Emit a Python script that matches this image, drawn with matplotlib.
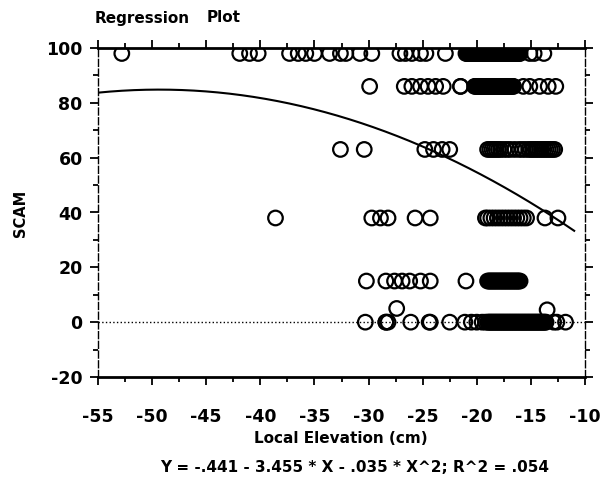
import matplotlib.pyplot as plt
import numpy as np
from matplotlib.ticker import MultipleLocator

plt.rcParams['axes.unicode_minus'] = False

# SCAM levels (rows of points) and local elevations
elev_98 = [-52.8, -41.9, -41.0, -40.2, -37.3, -36.5, -35.8, -35.0, -33.6, -32.6,
           -32.1, -30.8, -29.7, -27.1, -26.6, -26.0, -25.2, -24.7, -22.9,
           -21.0, -20.9, -20.8, -20.7, -20.6, -20.5, -20.4, -20.3, -20.2, -20.1,
           -20.0, -19.9, -19.8, -19.7, -19.6, -19.5, -19.4, -19.3, -19.2, -19.1,
           -19.0, -18.9, -18.8, -18.7, -18.6, -18.5, -18.4, -18.3, -18.2, -18.1,
           -18.0, -17.9, -17.8, -17.7, -17.6, -17.5, -17.4, -17.3, -17.2, -17.1,
           -17.0, -16.9, -16.8, -16.7, -16.6, -16.5, -16.4, -16.3, -16.2, -16.1,
           -16.0, -15.1, -14.7, -13.8]
elev_86 = [-29.9, -26.7, -26.0, -25.2, -24.5, -23.8, -23.1, -21.5, -21.5,
           -20.2, -20.1, -20.0, -19.9, -19.8, -19.7, -19.6, -19.5, -19.4, -19.3,
           -19.2, -19.1, -19.0, -18.9, -18.8, -18.7, -18.6, -18.5, -18.4, -18.3,
           -18.2, -18.1, -18.0, -17.9, -17.8, -17.7, -17.6, -17.5, -17.4, -17.3,
           -17.2, -17.1, -17.0, -16.9, -16.8, -16.7, -16.6,
           -15.7, -15.1, -14.2, -13.4, -12.7]
elev_63 = [-32.6, -30.4, -24.8, -24.0, -23.2, -22.5,
           -19.0, -18.8, -18.6, -18.4, -18.2, -18.0, -17.8, -17.5, -17.2, -16.9,
           -16.5, -16.1, -15.8, -15.5, -15.2, -15.0, -14.8, -14.6, -14.4, -14.2,
           -14.0, -13.8, -13.6, -13.4, -13.2, -13.0, -12.8]
elev_38 = [-38.6, -29.7, -28.9, -28.2, -25.7, -24.3,
           -19.2, -19.0, -18.7, -18.4, -18.1, -17.8, -17.5, -17.2, -16.9, -16.6,
           -16.3, -16.0, -15.7, -15.4, -13.7, -12.5]
elev_15 = [-30.2, -28.4, -27.6, -26.9, -26.2, -25.2, -24.3, -21.0,
           -19.0, -18.9, -18.8, -18.7, -18.6, -18.5, -18.4, -18.3, -18.2, -18.1,
           -18.0, -17.9, -17.8, -17.7, -17.6, -17.5, -17.4, -17.3, -17.2, -17.1,
           -17.0, -16.9, -16.8, -16.7, -16.6, -16.5, -16.4, -16.3, -16.2, -16.1,
           -16.0]
elev_0 = [-30.3, -28.4, -28.4, -28.2, -26.1, -24.4, -24.3, -22.5, -21.1, -20.5,
          -20.0, -19.5, -19.2,
          -19.0, -18.9, -18.8, -18.7, -18.6, -18.5, -18.4, -18.3, -18.2, -18.1,
          -18.0, -17.9, -17.8, -17.7, -17.6, -17.5, -17.4, -17.3, -17.2, -17.1,
          -17.0, -16.9, -16.8, -16.7, -16.6, -16.5, -16.4, -16.3, -16.2, -16.1,
          -16.0, -15.9, -15.8, -15.7, -15.6, -15.5, -15.4, -15.3, -15.2, -15.1,
          -15.0, -14.9, -14.8, -14.7, -14.6, -14.5, -14.4, -14.3, -14.2, -14.1,
          -14.0, -13.9, -13.8, -13.7, -13.6, -12.9, -12.6, -11.8]
rows = {98: elev_98, 86: elev_86, 63: elev_63, 38: elev_38, 15: elev_15, 0: elev_0}
extra_x = [-27.4, -13.5]
extra_y = [5, 4.5]

# regression coefficients printed under the chart
b0, b1, b2 = -0.441, -3.455, -0.035

x = np.concatenate([rows[k] for k in rows] + [extra_x])
y = np.concatenate([[k] * len(rows[k]) for k in rows] + [extra_y])

fig = plt.figure(figsize=(6.08, 4.86), dpi=100)
ax = fig.add_axes([98 / 608, 1 - 377 / 486, 487 / 608, 329 / 486])

ax.axhline(0, color='black', ls=':', lw=1.0, zorder=1)
ax.scatter(x, y, s=110, facecolors='none', edgecolors='black', linewidths=1.6, zorder=2)

xs = np.linspace(-55, -11, 200)
ax.plot(xs, b0 + b1 * xs + b2 * xs ** 2, color='black', lw=1.5, zorder=3)

ax.set_xlim(-55, -10)
ax.set_ylim(-20, 100)
ax.xaxis.set_major_locator(MultipleLocator(5))
ax.xaxis.set_minor_locator(MultipleLocator(2.5))
ax.yaxis.set_major_locator(MultipleLocator(20))
ax.yaxis.set_minor_locator(MultipleLocator(10))
ax.tick_params(which='both', direction='out', top=True, right=True, width=1.3, color='black')
ax.tick_params(which='major', length=6)
ax.tick_params(which='minor', length=3.5)
ax.tick_params(axis='x', pad=16)
ax.tick_params(axis='y', pad=5)
for lab in ax.get_xticklabels() + ax.get_yticklabels():
    lab.set_fontweight('bold')
    lab.set_fontsize(12.5)

for side in ['top', 'bottom']:
    ax.spines[side].set_linewidth(2)
for side in ['left', 'right']:
    ax.spines[side].set_linewidth(1)
    ax.spines[side].set_linestyle((0, (5, 2)))

fig.text(95 / 608, 1 - 18 / 486, 'Regression', fontsize=11, fontweight='bold', va='center')
fig.text(207 / 608, 1 - 18 / 486, 'Plot', fontsize=11, fontweight='bold', va='center')
fig.text(20 / 608, 1 - 213 / 486, 'SCAM', fontsize=10.5, fontweight='bold',
         rotation=90, ha='center', va='center')
fig.text(341 / 608, 1 - 438 / 486, 'Local Elevation (cm)', fontsize=11, fontweight='bold',
         ha='center', va='center')
fig.text(355 / 608, 1 - 468 / 486, 'Y = -.441 - 3.455 * X - .035 * X^2; R^2 = .054',
         fontsize=11, fontweight='bold', ha='center', va='center')

fig.savefig('out.png', dpi=100)
